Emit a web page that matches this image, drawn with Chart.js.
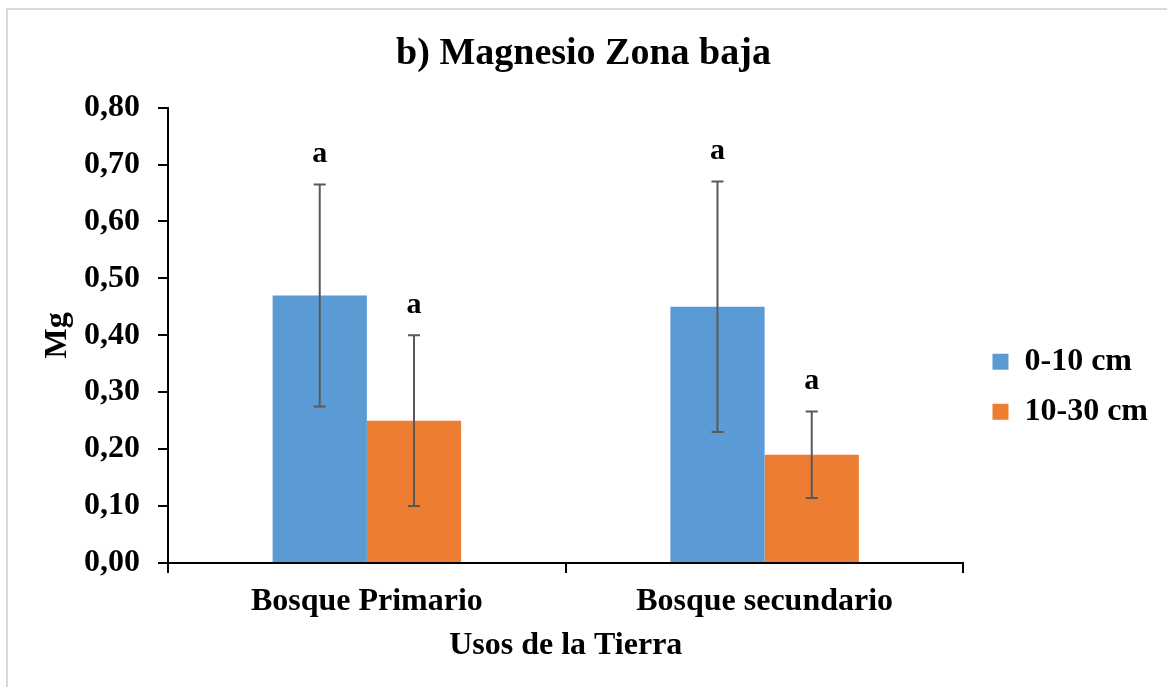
<!DOCTYPE html>
<html>
<head>
<meta charset="utf-8">
<script src="https://cdn.jsdelivr.net/npm/chart.js@4.4.1/dist/chart.umd.min.js"></script>
<style>
  html, body { margin: 0; padding: 0; background: #fff; overflow: hidden; }
  #wrap { position: relative; width: 1167px; height: 687px; }
  #frame { position: absolute; left: 6px; top: 8px; width: 1300px; height: 800px;
           border-left: 2px solid #d9d9d9; border-top: 2px solid #d9d9d9; pointer-events: none; }
  canvas { position: absolute; left: 0; top: 0; }
</style>
</head>
<body>
<div id="wrap">
  <canvas id="c" width="1167" height="687"></canvas>
  <div id="frame"></div>
</div>
<script>
// ---- data ----
const categories = ['Bosque Primario', 'Bosque secundario'];
const seriesNames = ['0-10 cm', '10-30 cm'];
const values0_10 = [0.47, 0.45];
const values10_30 = [0.25, 0.19];
const error0_10 = [0.195, 0.22];
const error10_30 = [0.15, 0.076];
const letters0_10 = ['a', 'a'];
const letters10_30 = ['a', 'a'];
const yMin = 0, yMax = 0.8, yStep = 0.1;

const FONT = "'Liberation Serif', 'Times New Roman', serif";

const errorPlugin = {
  id: 'errorBars',
  afterDatasetsDraw(chart) {
    const ctx = chart.ctx;
    const yScale = chart.scales.y;
    chart.data.datasets.forEach((ds, di) => {
      const meta = chart.getDatasetMeta(di);
      meta.data.forEach((bar, i) => {
        const v = ds.data[i];
        const e = ds.errors[i];
        const x = bar.x;
        const yTop = yScale.getPixelForValue(v + e);
        const yBot = yScale.getPixelForValue(v - e);
        ctx.save();
        ctx.strokeStyle = '#595959';
        ctx.lineWidth = 2;
        ctx.beginPath();
        ctx.moveTo(x, yTop); ctx.lineTo(x, yBot);
        ctx.moveTo(x - 6, yTop); ctx.lineTo(x + 6, yTop);
        ctx.moveTo(x - 6, yBot); ctx.lineTo(x + 6, yBot);
        ctx.stroke();
        ctx.fillStyle = '#000';
        ctx.font = 'bold 30px ' + FONT;
        ctx.textAlign = 'center';
        ctx.textBaseline = 'middle';
        ctx.fillText(ds.letters[i], x, yTop - 30);
        ctx.restore();
      });
    });
  }
};

// nudge the legend box to the right without changing the plot area
const legendShift = {
  id: 'legendShift',
  afterLayout(chart) {
    if (chart.legend) {
      chart.legend.left += 11;
      chart.legend.right += 11;
    }
  }
};

new Chart(document.getElementById('c'), {
  type: 'bar',
  data: {
    labels: categories,
    datasets: [
      { label: seriesNames[0], data: values0_10, errors: error0_10, letters: letters0_10,
        backgroundColor: '#5B9BD5', borderWidth: 0 },
      { label: seriesNames[1], data: values10_30, errors: error10_30, letters: letters10_30,
        backgroundColor: '#ED7D31', borderWidth: 0 }
    ]
  },
  options: {
    responsive: false,
    animation: false,
    devicePixelRatio: 1,
    layout: { padding: { left: 20, right: 20, top: 0, bottom: 0 } },
    datasets: { bar: { categoryPercentage: 0.474, barPercentage: 1.0 } },
    plugins: {
      title: {
        display: true,
        text: 'b) Magnesio Zona baja',
        color: '#000',
        font: { family: FONT, size: 38, weight: 'bold' },
        padding: { top: 31, bottom: 31 }
      },
      legend: {
        display: true,
        position: 'right',
        align: 'center',
        title: { display: true, text: '', padding: { top: 72, bottom: 0 } },
        labels: {
          color: '#000',
          font: { family: FONT, size: 32, weight: 'bold' },
          boxWidth: 16, boxHeight: 16, padding: 18
        }
      },
      tooltip: { enabled: false }
    },
    scales: {
      x: {
        border: { display: true, color: '#000', width: 2 },
        grid: { display: true, drawOnChartArea: false, drawTicks: true, tickLength: 10, color: '#000', lineWidth: 2 },
        ticks: { color: '#000', font: { family: FONT, size: 32, weight: 'bold' }, padding: 10 },
        title: { display: true, text: 'Usos de la Tierra', color: '#000',
                 font: { family: FONT, size: 32, weight: 'bold' }, padding: { top: 4, bottom: 22 } },
        afterFit(s) { s.height = 124; }
      },
      y: {
        min: yMin, max: yMax,
        border: { display: true, color: '#000', width: 2 },
        grid: { display: true, drawOnChartArea: false, drawTicks: true, tickLength: 10, color: '#000', lineWidth: 2 },
        ticks: { stepSize: yStep, color: '#000', padding: 18,
                 font: { family: FONT, size: 32, weight: 'bold' },
                 callback: v => v.toFixed(2).replace('.', ',') },
        title: { display: true, text: 'Mg', color: '#000',
                 font: { family: FONT, size: 32, weight: 'bold' }, padding: { top: 19, bottom: 0 } },
        afterFit(s) { s.width = 148; }
      }
    }
  },
  plugins: [errorPlugin, legendShift]
});
</script>
</body>
</html>
